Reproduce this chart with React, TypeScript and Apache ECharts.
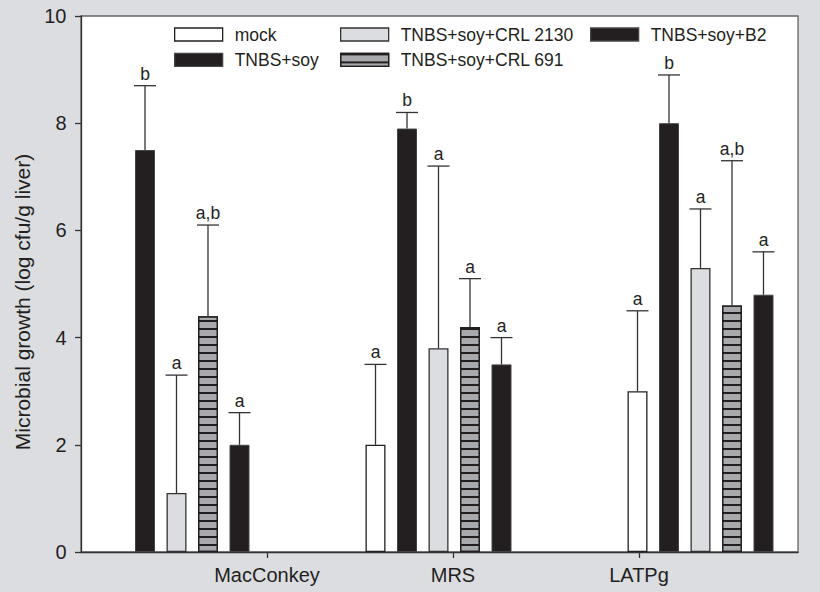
import React, { useEffect, useRef } from 'react';
import * as echarts from 'echarts';

const CATEGORIES = ['MacConkey', 'MRS', 'LATPg'];
const CATEGORY_TICKS = [1, 2, 3];
const GROUPS = ['mock', 'TNBS+soy', 'TNBS+soy+CRL 2130', 'TNBS+soy+CRL 691', 'TNBS+soy+B2'];
const Y_TICKS = [0, 2, 4, 6, 8, 10];
const Y_TITLE = 'Microbial growth (log cfu/g liver)';

const MOCK_MEAN = [null, 2.0, 3.0];
const MOCK_UPPER = [null, 3.5, 4.5];
const MOCK_SIG = ['', 'a', 'a'];
const SOY_MEAN = [7.5, 7.9, 8.0];
const SOY_UPPER = [8.7, 8.2, 8.9];
const SOY_SIG = ['b', 'b', 'b'];
const CRL2130_MEAN = [1.1, 3.8, 5.3];
const CRL2130_UPPER = [3.3, 7.2, 6.4];
const CRL2130_SIG = ['a', 'a', 'a'];
const CRL691_MEAN = [4.4, 4.2, 4.6];
const CRL691_UPPER = [6.1, 5.1, 7.3];
const CRL691_SIG = ['a,b', 'a', 'a,b'];
const B2_MEAN = [2.0, 3.5, 4.8];
const B2_UPPER = [2.6, 4.0, 5.6];
const B2_SIG = ['a', 'a', 'a'];

const FONT = "'Liberation Sans', Arial, sans-serif";
const INK = '#231f20';
const BAR_W = 20;
const BAR_GAP = 0.575;
const STEP = BAR_W * (1 + BAR_GAP);

export default function App() {
  const ref = useRef<HTMLDivElement>(null);
  useEffect(() => {
    if (!ref.current) return;
    const chart = echarts.init(ref.current, null, { renderer: 'svg' });
    const means = [MOCK_MEAN, SOY_MEAN, CRL2130_MEAN, CRL691_MEAN, B2_MEAN];
    const uppers = [MOCK_UPPER, SOY_UPPER, CRL2130_UPPER, CRL691_UPPER, B2_UPPER];
    const sigs = [MOCK_SIG, SOY_SIG, CRL2130_SIG, CRL691_SIG, B2_SIG];
    const styles: any[] = [
      { color: '#ffffff', borderColor: INK, borderWidth: 1.3 },
      { color: INK, borderColor: '#444', borderWidth: 1 },
      { color: '#dcdde0', borderColor: '#333', borderWidth: 1.3 },
      {
        color: '#a7a9ac', borderColor: INK, borderWidth: 1.3,
        decal: { symbol: 'rect', symbolSize: 1, color: INK, dashArrayX: [10, 0], dashArrayY: [1.4, 6], rotation: 0 },
      },
      { color: INK, borderColor: '#444', borderWidth: 1 },
    ];
    const errData: any[] = [];
    const errSig: string[] = [];
    means.forEach((arr, k) => {
      arr.forEach((m, c) => {
        if (m == null) return;
        errData.push([c, m, uppers[k][c], k]);
        errSig.push(sigs[k][c]);
      });
    });
    const barSeries = GROUPS.map((name, k) => ({
      name,
      type: 'bar',
      xAxisIndex: 1,
      yAxisIndex: 1,
      barWidth: BAR_W,
      barGap: BAR_GAP * 100 + '%',
      clip: false,
      data: means[k].map((v) => (v == null ? '-' : v)),
      itemStyle: styles[k],
      z: 3,
    }));
    const legendCommon = {
      orient: 'vertical',
      top: 25.5,
      padding: 0,
      itemGap: 7.4,
      itemWidth: 48,
      itemHeight: 13,
      icon: 'rect',
      itemStyle: { borderWidth: 1.3 },
      textStyle: { fontSize: 17.5, fontFamily: FONT, color: INK, padding: [0, 0, 0, 7] },
      selectedMode: false,
    };
    chart.setOption({
      animation: false,
      backgroundColor: '#dcdde0',
      textStyle: { fontFamily: FONT },
      grid: [
        { left: 81, top: 16, width: 717, height: 536, show: true, backgroundColor: '#ffffff', borderColor: '#666', borderWidth: 1.3 },
        { left: 176.5, top: 16, width: 524, height: 536 },
      ],
      legend: [
        { ...legendCommon, left: 174, data: [GROUPS[0], GROUPS[1]] },
        { ...legendCommon, left: 340, data: [GROUPS[2], GROUPS[3]] },
        { ...legendCommon, left: 590, data: [GROUPS[4]] },
      ],
      xAxis: [
        {
          gridIndex: 0, type: 'value', min: 0, max: 3.855,
          axisLine: { show: true, lineStyle: { color: '#333', width: 1.3 } },
          axisTick: { show: true, customValues: CATEGORY_TICKS, length: 6, lineStyle: { color: '#333', width: 1.3 } },
          axisLabel: {
            customValues: CATEGORY_TICKS, margin: 13, fontSize: 20, fontFamily: FONT, color: INK,
            formatter: (v: number) => CATEGORIES[Math.round(v) - 1] ?? '',
          },
          splitLine: { show: false },
        },
        { gridIndex: 1, type: 'category', data: CATEGORIES, boundaryGap: false, show: false },
      ],
      yAxis: [
        {
          gridIndex: 0, type: 'value', min: Y_TICKS[0], max: Y_TICKS[Y_TICKS.length - 1], interval: 2,
          axisLine: { show: true, lineStyle: { color: '#333', width: 1.3 } },
          axisTick: { show: true, length: 6, lineStyle: { color: '#333', width: 1.3 } },
          axisLabel: { margin: 14.5, fontSize: 20, fontFamily: FONT, color: INK },
          splitLine: { show: false },
        },
        { gridIndex: 1, type: 'value', min: 0, max: 10, show: false },
      ],
      graphic: [
        {
          type: 'text', x: 22, y: 302, rotation: Math.PI / 2, z: 10,
          style: { text: Y_TITLE, textAlign: 'center', textVerticalAlign: 'middle', fontSize: 21, fontFamily: FONT, fill: INK },
        },
      ],
      series: [
        ...barSeries,
        {
          type: 'custom',
          xAxisIndex: 1,
          yAxisIndex: 1,
          z: 4,
          clip: false,
          data: errData,
          renderItem: (params: any, api: any) => {
            const c = api.value(0);
            const m = api.value(1);
            const u = api.value(2);
            const k = api.value(3);
            const base = api.coord([c, m]);
            const top = api.coord([c, u]);
            const x = base[0] + (k - 2) * STEP;
            const ls = { stroke: '#333', lineWidth: 1.3 };
            return {
              type: 'group',
              children: [
                { type: 'line', shape: { x1: x, y1: base[1], x2: x, y2: top[1] }, style: ls },
                { type: 'line', shape: { x1: x - 11, y1: top[1], x2: x + 11, y2: top[1] }, style: ls },
                {
                  type: 'text', x, y: top[1] - 3,
                  style: { text: errSig[params.dataIndex], textAlign: 'center', textVerticalAlign: 'bottom', fontSize: 17.5, fontFamily: FONT, fill: INK },
                },
              ],
            };
          },
        },
      ],
    });
    return () => chart.dispose();
  }, []);
  return <div ref={ref} style={{ position: 'fixed', left: 0, top: 0, width: 820, height: 592 }} />;
}
